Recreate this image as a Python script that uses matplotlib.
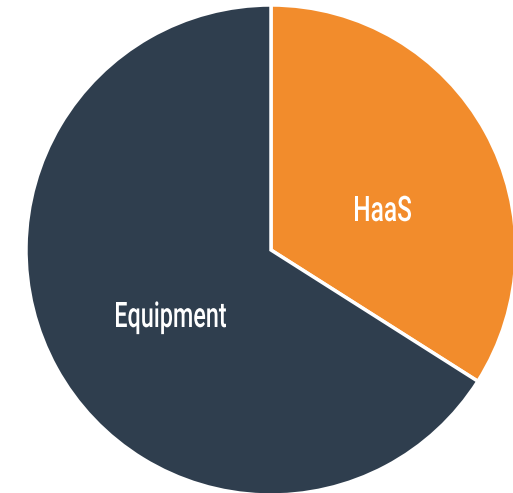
import matplotlib
matplotlib.use("Agg")
import matplotlib.pyplot as plt
from matplotlib.textpath import TextPath
from matplotlib.patches import PathPatch
from matplotlib.font_manager import FontProperties
from matplotlib.transforms import Affine2D

# Доли выручки
labels = ["HaaS", "Equipment"]
shares = [34, 66]
colors = ["#f28c2c", "#2f3e4e"]

W, H = 513, 493
cx, cy, r = 271, 250, 245

fig = plt.figure(figsize=(W / 100, H / 100), dpi=100)
ax = fig.add_axes([0, 0, 1, 1])

wedges, _ = ax.pie(
    shares,
    colors=colors,
    startangle=90,
    counterclock=False,
    wedgeprops=dict(edgecolor="white", linewidth=2.5),
)

ax.set_xlim(-cx / r, (W - cx) / r)
ax.set_ylim(-(H - cy) / r, cy / r)
ax.set_aspect("auto")
ax.axis("off")

# Узкий шрифт: сжимаем контур текста по горизонтали
font = FontProperties(family="Roboto", weight="medium")


def narrow_label(text, left, baseline, width, cap):
    path = TextPath((0, 0), text, size=1, prop=font)
    cap_h = TextPath((0, 0), "H", size=1, prop=font).get_extents().y1
    ext = path.get_extents()
    sx = (width / r) / ext.width
    sy = (cap / r) / cap_h
    tr = (Affine2D().translate(-ext.x0, 0).scale(sx, sy)
          .translate((left - cx) / r, (cy - baseline) / r))
    ax.add_patch(PathPatch(tr.transform_path(path), facecolor="white",
                           edgecolor="none", zorder=5))


narrow_label(labels[0], 355, 221, 56, 25)
narrow_label(labels[1], 116, 327, 110, 25)

fig.savefig("out.png", dpi=100)
